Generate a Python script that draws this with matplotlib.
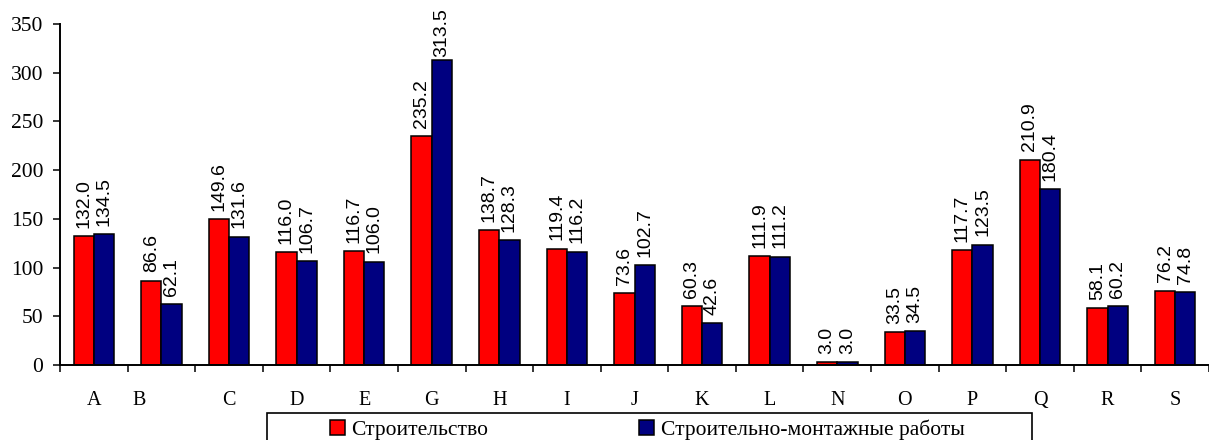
import matplotlib
matplotlib.use("Agg")
import matplotlib.pyplot as plt
import matplotlib.transforms as mtransforms
from matplotlib.patches import Rectangle
import numpy as np

categories = ["A", "B", "C", "D", "E", "G", "H", "I", "J", "K", "L", "N", "O", "P", "Q", "R", "S"]
stroitelstvo = [132.0, 86.6, 149.6, 116.0, 116.7, 235.2, 138.7, 119.4, 73.6, 60.3, 111.9, 3.0, 33.5, 117.7, 210.9, 58.1, 76.2]
smr = [134.5, 62.1, 131.6, 106.7, 106.0, 313.5, 128.3, 116.2, 102.7, 42.6, 111.2, 3.0, 34.5, 123.5, 180.4, 60.2, 74.8]
series_names = ["Строительство", "Строительно-монтажные работы"]
yticks = [0, 50, 100, 150, 200, 250, 300, 350]

W, H = 1209, 440
fig = plt.figure(figsize=(W / 100, H / 100), dpi=100)
ax = fig.add_axes([60 / W, 75 / H, (1209 - 60) / W, 341 / H])

serif = "Liberation Serif"
sans = "Liberation Sans"

x = np.arange(len(categories))
bw = 0.3
b1 = ax.bar(x - bw / 2, stroitelstvo, bw, color="#FF0000", edgecolor="black", linewidth=1.1, label=series_names[0])
b2 = ax.bar(x + bw / 2, smr, bw, color="#000080", edgecolor="black", linewidth=1.1, label=series_names[1])

for bars, vals in ((b1, stroitelstvo), (b2, smr)):
    for rect, v in zip(bars, vals):
        off = 2 if v > 300 else 6
        ax.annotate(f"{v:.1f}", (rect.get_x() + rect.get_width() / 2, v),
                    xytext=(0, off), textcoords="offset points",
                    rotation=90, ha="center", va="bottom",
                    fontsize=14, family=sans, color="black")

ax.set_xlim(-0.5, len(categories) - 0.5)
ax.set_ylim(0, 350)
ax.set_yticks(yticks)
ax.set_yticklabels([str(t) for t in yticks], fontsize=15.5, family=serif)
ax.set_xticks(x)
ax.set_xticklabels(categories, fontsize=14.5, family=serif)
ax.set_xticks(np.arange(len(categories) + 1) - 0.5, minor=True)
ax.tick_params(axis="x", which="major", length=0, pad=19)
ax.tick_params(axis="x", which="minor", length=5, width=1.1, direction="out")
ax.tick_params(axis="y", length=5, width=1.1, direction="out", pad=7)

# offset the "B" label as in the original
lbl = ax.get_xticklabels()[1]
lbl.set_transform(lbl.get_transform() + mtransforms.ScaledTranslation(-22 / 100, 0, fig.dpi_scale_trans))

for s in ("top", "right"):
    ax.spines[s].set_visible(False)
for s in ("left", "bottom"):
    ax.spines[s].set_linewidth(1.4)
    ax.spines[s].set_color("black")

# legend frame
fig.patches.append(Rectangle((267 / W, -30 / H), (1032 - 267) / W, (30 + 440 - 413) / H,
                             transform=fig.transFigure, facecolor="white", edgecolor="black",
                             linewidth=1.2, zorder=5))
leg = fig.legend(handles=[b1, b2], labels=series_names, ncol=2, frameon=False,
                 loc="center left", bbox_to_anchor=(330 / W, 1 - 430 / H),
                 prop={"family": serif, "size": 15.5},
                 handlelength=0.7, handleheight=0.7, handletextpad=0.3,
                 columnspacing=7.0, borderpad=0, borderaxespad=0)
leg.set_zorder(6)

fig.savefig("out.png", dpi=100)
